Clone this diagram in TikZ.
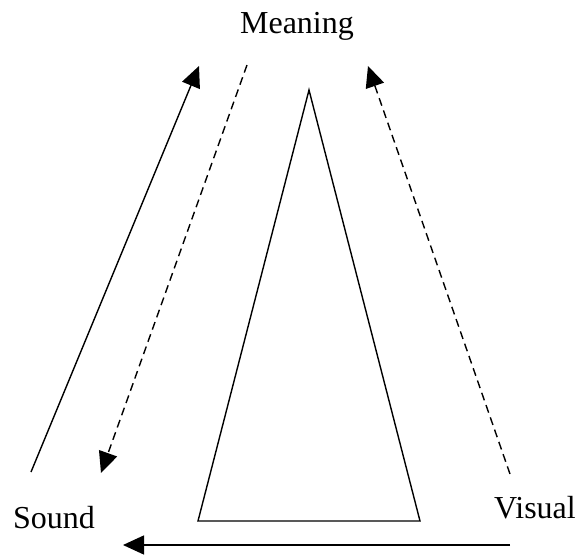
\documentclass[tikz,border=0pt]{standalone}
\usepackage{fontspec}
\setmainfont{Liberation Serif}
\usetikzlibrary{arrows.meta}
\begin{document}
\begin{tikzpicture}[x=1pt,y=-1pt,
  lbl/.style={font=\fontsize{32}{36}\selectfont, inner sep=0pt, anchor=base},
  conn/.style={line width=1.4pt, -{Triangle[length=21pt,width=19pt]}},
  dsh/.style={conn, dash pattern=on 8pt off 5pt}]
\useasboundingbox (0,0) rectangle (576,557);
\node[lbl] (meaning) at (297,33) {Meaning};
\node[lbl] (sound) at (54,528) {Sound};
\node[lbl] (visual) at (535,518) {Visual};
\coordinate (s0) at (31,472);
\coordinate (s1) at (199,66);
\coordinate (d0) at (247,65);
\coordinate (d1) at (101,473);
\coordinate (v0) at (510,474);
\coordinate (v1) at (368,66);
\coordinate (b0) at (510,545);
\coordinate (b1) at (123,545);
\coordinate (apex) at (309,90);
\coordinate (bl) at (198,521);
\coordinate (br) at (420,521);
\draw[line width=1.4pt, line join=miter] (apex) -- (br) -- (bl) -- cycle;
\draw[conn] (s0) -- (s1);
\draw[dsh] (d0) -- (d1);
\draw[dsh] (v0) -- (v1);
\draw[conn] (b0) -- (b1);
\end{tikzpicture}
\end{document}
